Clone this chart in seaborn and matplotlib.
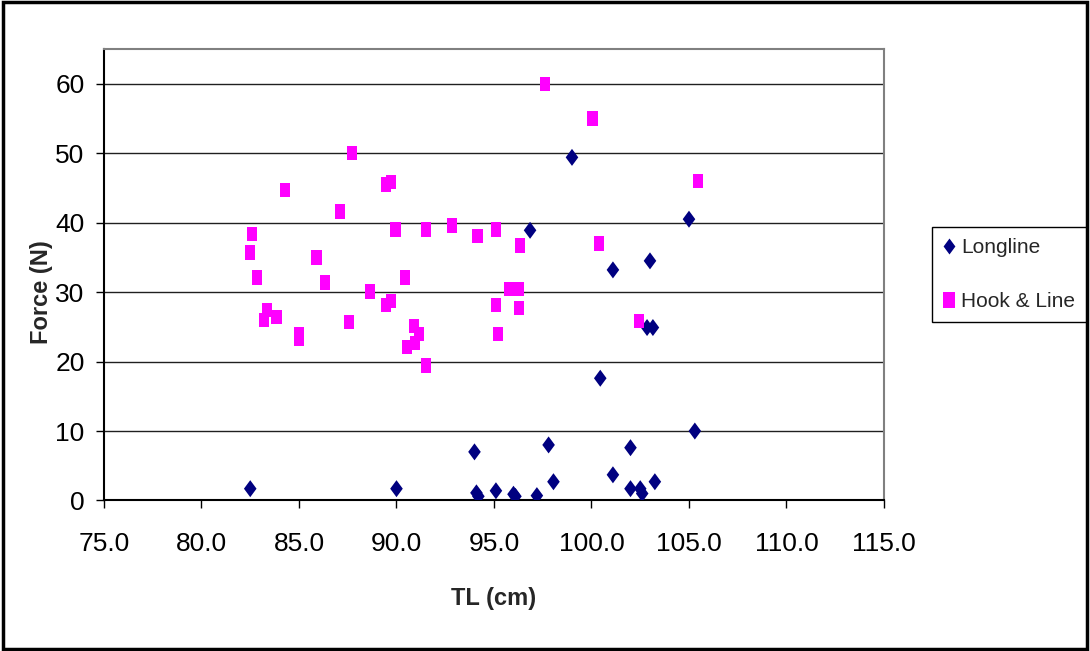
import numpy as np
import pandas as pd
import matplotlib
matplotlib.use("Agg")
import matplotlib.pyplot as plt
from matplotlib.patches import Rectangle
from matplotlib.lines import Line2D
import seaborn as sns

# longline catch: total length (cm) and force (N)
longline_tl = [82.5, 90.0, 94.0, 94.1, 94.2, 95.1, 96.0, 96.1, 96.85, 97.2,
               97.8, 98.05, 99.0, 100.45, 101.1, 101.1, 102.0, 102.0, 102.5, 102.6,
               102.85, 103.0, 103.15, 103.25, 105.0, 105.3]
longline_force = [1.7, 1.7, 7.0, 1.1, 0.6, 1.4, 0.9, 0.6, 38.9, 0.7,
                  8.0, 2.7, 49.4, 17.6, 33.2, 3.7, 7.6, 1.7, 1.7, 1.0,
                  24.9, 34.5, 24.9, 2.7, 40.5, 10.0]

# hook & line catch
hook_tl = [97.6, 100.05, 105.45, 87.7, 84.3, 89.45, 89.7, 87.1, 92.85, 89.95,
           91.5, 94.15, 95.1, 96.35, 100.4, 82.6, 82.5, 85.9, 82.85, 83.35,
           83.2, 83.85, 85.0, 85.0, 86.35, 87.55, 88.65, 89.45, 89.7, 90.45,
           90.9, 91.15, 90.95, 90.55, 91.5, 95.1, 95.2, 95.8, 96.3, 96.3, 102.45]
hook_force = [60.0, 55.0, 46.0, 50.0, 44.7, 45.5, 45.9, 41.6, 39.6, 39.0,
              39.0, 38.1, 39.0, 36.7, 37.0, 38.4, 35.7, 35.0, 32.1, 27.4,
              26.0, 26.4, 24.0, 23.2, 31.4, 25.7, 30.1, 28.1, 28.7, 32.1,
              25.1, 24.0, 22.7, 22.05, 19.45, 28.1, 24.0, 30.4, 30.4, 27.7, 25.8]

gears = ["Longline", "Hook & Line"]
colors = {"Longline": "#000080", "Hook & Line": "#FF00FF"}

df = pd.DataFrame({
    "TL": longline_tl + hook_tl,
    "Force": longline_force + hook_force,
    "Gear": ["Longline"] * len(longline_tl) + ["Hook & Line"] * len(hook_tl),
})

# tall diamond and tall rectangle, like the stretched excel markers
diamond = [(0, 0.5), (0.37, 0), (0, -0.5), (-0.37, 0)]
square = [(-0.36, -0.5), (0.36, -0.5), (0.36, 0.5), (-0.36, 0.5)]
markers = {"Longline": diamond, "Hook & Line": square}

sns.set_theme(style="white")
plt.rcParams["font.family"] = ["Liberation Sans", "DejaVu Sans"]

fig = plt.figure(figsize=(10.9, 6.51), dpi=100)
ax = fig.add_axes([0.0954, 0.2312, 0.7156, 0.6935])

sns.scatterplot(data=df, x="TL", y="Force", hue="Gear", style="Gear",
                palette=colors, markers=markers, hue_order=gears, style_order=gears,
                size="Gear", sizes={"Longline": 150, "Hook & Line": 105},
                linewidth=0, legend=False, ax=ax, zorder=3)

ax.set_xlim(75, 115)
ax.set_ylim(0, 65)
ax.set_xticks(np.arange(75, 116, 5))
ax.set_xticklabels([f"{v:.1f}" for v in np.arange(75, 116, 5)])
ax.set_yticks(np.arange(0, 61, 10))
ax.yaxis.grid(True, color="#202020", linewidth=1.0)
ax.xaxis.grid(False)
ax.set_axisbelow(True)

ax.tick_params(axis="both", which="major", direction="out", length=6, width=1,
               color="black", labelsize=19, labelcolor="black")
ax.tick_params(axis="x", pad=17, bottom=True)
ax.tick_params(axis="y", pad=8, left=True)

for side in ["left", "bottom"]:
    ax.spines[side].set_color("black")
    ax.spines[side].set_linewidth(1.5)
for side in ["top", "right"]:
    ax.spines[side].set_color("#808080")
    ax.spines[side].set_linewidth(1.5)

ax.set_xlabel("TL (cm)", fontsize=17, fontweight="bold", labelpad=22)
ax.set_ylabel("Force (N)", fontsize=17, fontweight="bold")
ax.yaxis.set_label_coords(-0.066, 0.462)

handles = [Line2D([], [], linestyle="none", marker=markers[g], markersize=11.5,
                  markerfacecolor=colors[g], markeredgewidth=0) for g in gears]
leg = ax.legend(handles, gears, loc="upper left", bbox_to_anchor=(0.855, 0.6513),
                bbox_transform=fig.transFigure, borderaxespad=0, frameon=True,
                fancybox=False, edgecolor="black", framealpha=1,
                prop={"size": 15},
                handlelength=0.5, handletextpad=0.35, labelspacing=1.65,
                borderpad=0.55)
leg.get_frame().set_linewidth(1.0)

# outer chart border
fig.patches.append(Rectangle((0.003, 0.003), 0.994, 0.994, transform=fig.transFigure,
                             fill=False, edgecolor="black", linewidth=2.5))

fig.savefig("out.png", dpi=100)
